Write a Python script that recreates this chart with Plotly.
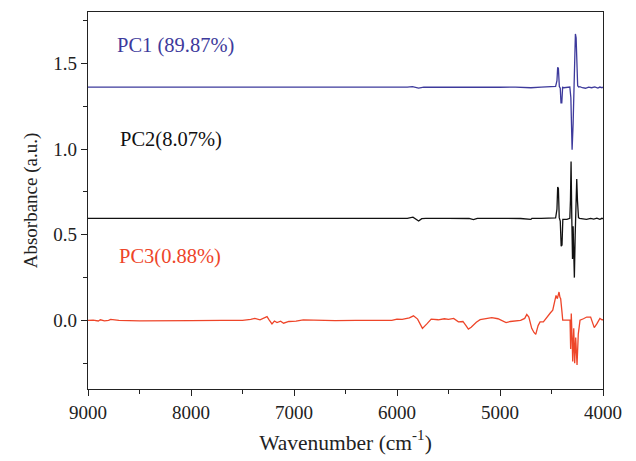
import plotly.graph_objects as go

# Loadings of the first three principal components (wavenumber in cm-1)
pc1_wn = [9000, 8850, 8700, 8500, 8200, 8000, 7700, 7400, 7300, 7200, 7000, 6700, 6400,
          6100, 5900, 5850, 5790, 5740, 5600, 5450, 5300, 5200, 5000, 4850, 4700, 4600,
          4500, 4460, 4447, 4440, 4433, 4424, 4415, 4408, 4400, 4392, 4380, 4350, 4322,
          4312, 4300, 4290, 4278, 4268, 4261, 4254, 4246, 4236, 4225, 4200, 4170, 4140,
          4110, 4080, 4050, 4030, 4010, 4000]
pc1_val = [1.362, 1.362, 1.361, 1.362, 1.361, 1.362, 1.362, 1.361, 1.363, 1.360, 1.362,
           1.362, 1.361, 1.362, 1.362, 1.365, 1.356, 1.362, 1.361, 1.362, 1.359, 1.362,
           1.361, 1.362, 1.358, 1.362, 1.362, 1.366, 1.40, 1.478, 1.47, 1.365, 1.355,
           1.27, 1.27, 1.36, 1.358, 1.36, 1.362, 1.30, 0.996, 1.15, 1.45, 1.672, 1.65,
           1.45, 1.37, 1.362, 1.364, 1.358, 1.355, 1.362, 1.358, 1.363, 1.356, 1.362,
           1.358, 1.362]

pc2_wn = [9000, 8800, 8500, 8200, 7900, 7600, 7300, 7000, 6700, 6400, 6100, 5900, 5845,
          5790, 5760, 5720, 5500, 5300, 5258, 5220, 5000, 4800, 4700, 4690, 4600, 4500,
          4460, 4447, 4440, 4433, 4425, 4415, 4406, 4398, 4390, 4350, 4322, 4316, 4310,
          4303, 4296, 4290, 4284, 4278, 4270, 4262, 4255, 4248, 4238, 4228, 4200, 4160,
          4120, 4090, 4060, 4030, 4010, 4000]
pc2_val = [0.596, 0.596, 0.595, 0.596, 0.596, 0.595, 0.596, 0.596, 0.595, 0.596, 0.596,
           0.596, 0.603, 0.580, 0.594, 0.596, 0.596, 0.595, 0.588, 0.596, 0.596, 0.595,
           0.590, 0.596, 0.596, 0.596, 0.598, 0.65, 0.778, 0.77, 0.60, 0.58, 0.433, 0.44,
           0.59, 0.59, 0.596, 0.70, 0.928, 0.60, 0.359, 0.55, 0.40, 0.25, 0.50, 0.70,
           0.826, 0.70, 0.60, 0.596, 0.594, 0.590, 0.596, 0.592, 0.597, 0.590, 0.596,
           0.594]

pc3_wn = [9000, 8950, 8900, 8880, 8840, 8800, 8780, 8700, 8500, 8300, 8000, 7700, 7500,
          7420, 7380, 7330, 7290, 7262, 7240, 7214, 7190, 7165, 7130, 7101, 7050, 6980,
          6910, 6800, 6600, 6400, 6200, 6050, 6000, 5950, 5880, 5840, 5800, 5753, 5710,
          5668, 5600, 5540, 5500, 5450, 5404, 5360, 5330, 5307, 5280, 5258, 5230, 5193,
          5140, 5080, 5020, 4970, 4941, 4900, 4854, 4800, 4760, 4740, 4720, 4692, 4670,
          4653, 4630, 4611, 4579, 4555, 4531, 4510, 4488, 4470, 4456, 4443, 4435, 4427,
          4418, 4411, 4400, 4391, 4360, 4320, 4314, 4308, 4300, 4294, 4284, 4275, 4265,
          4252, 4240, 4223, 4190, 4158, 4120, 4100, 4085, 4060, 4030, 4010, 4000]
pc3_val = [0.0, 0.002, -0.003, 0.004, -0.002, 0.0, 0.006, 0.0, -0.002, 0.0, -0.001, 0.0,
           0.001, 0.006, 0.012, 0.004, 0.015, 0.022, 0.002, -0.02, -0.003, -0.012, -0.004,
           -0.016, -0.006, -0.004, 0.003, 0.0, -0.001, 0.0, 0.001, 0.0, 0.008, 0.006,
           0.015, 0.027, 0.008, -0.046, -0.02, 0.008, 0.004, 0.01, 0.006, 0.012, -0.008,
           -0.006, -0.03, -0.05, -0.04, -0.027, -0.01, 0.005, 0.012, 0.016, 0.01, -0.004,
           -0.013, -0.006, -0.003, 0.0, 0.012, 0.035, 0.02, -0.046, -0.07, -0.081, -0.03,
           -0.008, -0.008, 0.012, 0.031, 0.045, 0.06, 0.10, 0.146, 0.127, 0.15, 0.166,
           0.135, 0.127, 0.06, 0.002, 0.002, 0.002, -0.166, 0.04, -0.10, -0.24, -0.046,
           -0.25, -0.10, -0.26, -0.08, 0.002, 0.01, 0.02, 0.02, -0.01, -0.042, -0.02,
           0.012, 0.004, 0.004]

series = [
    ("PC1 (89.87%)", pc1_wn, pc1_val, "#3d3a9c", 8150, 1.605),
    ("PC2(8.07%)", pc2_wn, pc2_val, "#111111", 8190, 1.055),
    ("PC3(0.88%)", pc3_wn, pc3_val, "#ee4529", 8200, 0.376),
]

FONT = "Liberation Serif"

fig = go.Figure()
for name, wn, val, color, lx, ly in series:
    fig.add_trace(go.Scatter(x=wn, y=val, mode="lines", name=name,
                             line=dict(color=color, width=1.3), showlegend=False))
    fig.add_annotation(x=lx, y=ly, text=name, showarrow=False,
                       font=dict(family=FONT, size=20.5, color=color),
                       xanchor="center", yanchor="middle")

axis_common = dict(showline=True, linecolor="#222222", linewidth=1.3, mirror=True,
                   showgrid=False, zeroline=False, ticks="outside", ticklen=6,
                   tickwidth=1.2, tickcolor="#222222",
                   tickfont=dict(family=FONT, size=19, color="#222222"))

fig.update_xaxes(range=[9000, 4000], tick0=4000, dtick=1000,
                 minor=dict(ticks="outside", dtick=500, ticklen=4, tickwidth=1.2,
                            tickcolor="#222222"),
                 title=dict(text="Wavenumber (cm<sup>-1</sup>)", standoff=12,
                            font=dict(family=FONT, size=21.5, color="#222222")),
                 **axis_common)
fig.update_yaxes(range=[-0.4, 1.8], tick0=0, dtick=0.5, tickformat=".1f",
                 minor=dict(ticks="outside", dtick=0.25, ticklen=4, tickwidth=1.2,
                            tickcolor="#222222"),
                 title=dict(text="Absorbance (a.u.)", standoff=10,
                            font=dict(family=FONT, size=19, color="#222222")),
                 **axis_common)

fig.update_layout(width=636, height=461, plot_bgcolor="white", paper_bgcolor="white",
                  margin=dict(l=88, r=33, t=11, b=69))

fig.write_html("out.html")
